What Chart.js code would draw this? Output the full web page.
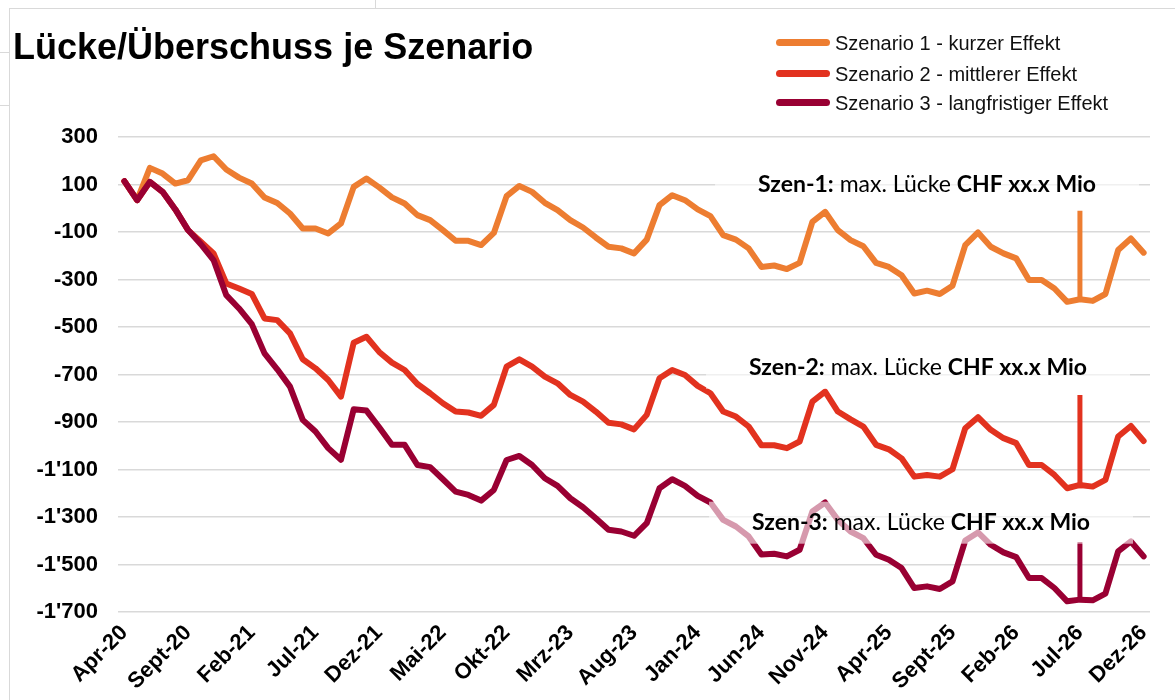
<!DOCTYPE html>
<html>
<head>
<meta charset="utf-8">
<script src="https://cdn.jsdelivr.net/npm/chart.js@4.4.1/dist/chart.umd.min.js"></script>
<style>
  body { margin: 0; background: #fff; }
  #rahmen { position: relative; width: 1175px; height: 700px; overflow: hidden; }
  #grafik { position: absolute; left: 0; top: 0; }
  .linie { position: absolute; background: #d9d9d9; }
  #titel { position: absolute; left: 13px; top: 29px; font: bold 36px "Liberation Sans", Arial, sans-serif; line-height: 36px; color: #000; white-space: nowrap; }
  #legende { position: absolute; left: 776px; top: 0; }
  .eintrag { position: absolute; left: 0; height: 20px; white-space: nowrap; font: 20px "Liberation Sans", Arial, sans-serif; line-height: 20px; color: #111; }
  .eintrag span.strich { position: absolute; left: 0; top: 6px; width: 54px; height: 7px; border-radius: 4px; }
  .eintrag span.text { position: absolute; left: 59px; top: 0; }
</style>
</head>
<body>
<div id="rahmen">
  <div class="linie" style="left:9px;top:8px;width:1px;height:692px"></div>
  <div class="linie" style="left:9px;top:8px;width:1166px;height:1px"></div>
  <div class="linie" style="left:0;top:52px;width:9px;height:1px"></div>
  <div class="linie" style="left:0;top:105px;width:9px;height:1px"></div>
  <div class="linie" style="left:375px;top:0;width:1px;height:8px"></div>
  <canvas id="grafik" width="1175" height="700"></canvas>
  <div id="titel">Lücke/Überschuss je Szenario</div>
  <div id="legende"></div>
</div>
<script>
// Monate Apr-20 bis Dez-26
const monate = [
  'Apr-20','Mai-20','Jun-20','Jul-20','Aug-20','Sept-20','Okt-20','Nov-20','Dez-20',
  'Jan-21','Feb-21','Mrz-21','Apr-21','Mai-21','Jun-21','Jul-21','Aug-21','Sept-21','Okt-21','Nov-21','Dez-21',
  'Jan-22','Feb-22','Mrz-22','Apr-22','Mai-22','Jun-22','Jul-22','Aug-22','Sept-22','Okt-22','Nov-22','Dez-22',
  'Jan-23','Feb-23','Mrz-23','Apr-23','Mai-23','Jun-23','Jul-23','Aug-23','Sept-23','Okt-23','Nov-23','Dez-23',
  'Jan-24','Feb-24','Mrz-24','Apr-24','Mai-24','Jun-24','Jul-24','Aug-24','Sept-24','Okt-24','Nov-24','Dez-24',
  'Jan-25','Feb-25','Mrz-25','Apr-25','Mai-25','Jun-25','Jul-25','Aug-25','Sept-25','Okt-25','Nov-25','Dez-25',
  'Jan-26','Feb-26','Mrz-26','Apr-26','Mai-26','Jun-26','Jul-26','Aug-26','Sept-26','Okt-26','Nov-26','Dez-26'
];

const szenario1 = [
  114, 34, 170, 146, 104, 118, 202, 219, 163, 129, 104, 45, 22, -22, -85, -85, -106, -64, 90, 125, 88,
  46, 20, -29, -50, -92, -137, -137, -155, -104, 51, 94, 69,
  23, -8, -50, -81, -123, -162, -169, -190, -132, 13, 55, 34,
  -5, -33, -113, -132, -169, -247, -241, -256, -230, -57, -15, -92,
  -134, -160, -230, -247, -282, -359, -347, -361, -326, -155, -102, -162,
  -190, -211, -302, -302, -338, -394, -383, -390, -361, -176, -127, -187
];
const szenario2 = [
  114, 34, 111, 69, -5, -92, -141, -190, -317, -338, -361, -464, -471, -527, -636, -674, -723, -793, -566, -541, -605,
  -650, -681, -740, -779, -821, -856, -860, -874, -828, -667, -636, -667,
  -709, -737, -786, -814, -856, -903, -910, -931, -870, -716, -681, -702,
  -748, -779, -856, -877, -919, -998, -998, -1010, -982, -814, -772, -856,
  -889, -919, -996, -1015, -1053, -1130, -1123, -1130, -1099, -926, -880, -933,
  -968, -989, -1081, -1081, -1123, -1179, -1165, -1172, -1144, -961, -917, -980
];
const szenario3 = [
  114, 34, 111, 69, -5, -92, -151, -218, -366, -422, -488, -611, -678, -751, -891, -940, -1010, -1059, -846, -852, -922,
  -996, -996, -1081, -1090, -1141, -1193, -1207, -1231, -1186, -1060, -1043, -1081,
  -1137, -1169, -1221, -1259, -1305, -1354, -1361, -1379, -1326, -1179, -1141, -1169,
  -1211, -1239, -1312, -1340, -1382, -1458, -1455, -1466, -1438, -1277, -1239, -1312,
  -1361, -1389, -1459, -1480, -1515, -1599, -1592, -1603, -1571, -1399, -1365, -1417,
  -1449, -1469, -1557, -1557, -1599, -1655, -1648, -1651, -1623, -1445, -1403, -1466
];

// Markierung der maximalen Lücke (Monat, oberes und unteres Ende)
const markerMonat = 'Jul-26';
const marker1 = [-11, -394];
const marker2 = [-786, -1179];
const marker3 = [-1405, -1655];

const beschriftungen = ['Szenario 1 - kurzer Effekt', 'Szenario 2 - mittlerer Effekt', 'Szenario 3 - langfristiger Effekt'];
const farben = ['#ED7D31', '#E2321F', '#990033'];

const hinweise = [
  { kopf: 'Szen-1:', mitte: ' max. Lücke ', betrag: 'CHF xx.x Mio', wert: 101, index: 63, dx: 0 },
  { kopf: 'Szen-2:', mitte: ' max. Lücke ', betrag: 'CHF xx.x Mio', wert: -672, index: 63, dx: -9 },
  { kopf: 'Szen-3:', mitte: ' max. Lücke ', betrag: 'CHF xx.x Mio', wert: -1324, index: 63, dx: -6 }
];

function tausender(v) {
  const s = Math.abs(v).toString().replace(/\B(?=(\d{3})+(?!\d))/g, "'");
  return (v < 0 ? '-' : '') + s;
}

function markerDaten(paar) {
  return paar.map(function(y) { return { x: markerMonat, y: y }; });
}

// Hinweistexte mit halbtransparentem Hintergrund
const hinweisPlugin = {
  id: 'hinweise',
  afterDatasetsDraw(chart) {
    const ctx = chart.ctx;
    const xs = chart.scales.x, ys = chart.scales.y;
    const fett = 'bold 23px Lato, "Open Sans", sans-serif';
    const normal = '23px Lato, "Open Sans", sans-serif';
    hinweise.forEach(function(h) {
      ctx.save();
      ctx.font = fett;
      const w1 = ctx.measureText(h.kopf).width;
      const w3 = ctx.measureText(h.betrag).width;
      ctx.font = normal;
      const w2 = ctx.measureText(h.mitte).width;
      const breite = w1 + w2 + w3;
      const cx = xs.getPixelForValue(h.index) + h.dx;
      const cy = ys.getPixelForValue(h.wert);
      ctx.fillStyle = 'rgba(255,255,255,0.6)';
      ctx.fillRect(cx - breite / 2 - 43, cy - 21, breite + 86, 42);
      ctx.fillStyle = '#000';
      ctx.textBaseline = 'middle';
      ctx.textAlign = 'left';
      let x = cx - breite / 2;
      ctx.font = fett; ctx.fillText(h.kopf, x, cy); x += w1;
      ctx.font = normal; ctx.fillText(h.mitte, x, cy); x += w2;
      ctx.font = fett; ctx.fillText(h.betrag, x, cy);
      ctx.restore();
    });
  }
};

const reihen = [szenario1, szenario2, szenario3];
const marker = [marker1, marker2, marker3];
const datensaetze = [];
reihen.forEach(function(r, i) {
  datensaetze.push({
    label: beschriftungen[i],
    data: r,
    borderColor: farben[i],
    backgroundColor: farben[i],
    borderWidth: 6,
    pointRadius: 0,
    tension: 0,
    borderJoinStyle: 'round',
    borderCapStyle: 'round',
    order: 3 - i
  });
});
marker.forEach(function(m, i) {
  datensaetze.push({
    label: '',
    data: markerDaten(m),
    borderColor: farben[i],
    borderWidth: 5,
    pointRadius: 0,
    borderCapStyle: 'butt',
    order: 0
  });
});

const grafik = new Chart(document.getElementById('grafik').getContext('2d'), {
  type: 'line',
  data: { labels: monate, datasets: datensaetze },
  options: {
    responsive: false,
    animation: false,
    layout: { padding: { left: 0, top: 137, right: 25, bottom: 0 } },
    plugins: {
      legend: { display: false },
      title: { display: false },
      tooltip: { enabled: false }
    },
    scales: {
      x: {
        offset: true,
        grid: { display: false, drawTicks: false },
        border: { display: false },
        ticks: {
          autoSkip: false,
          minRotation: 45,
          maxRotation: 45,
          padding: 8,
          color: '#000',
          font: { family: '"Liberation Sans", Arial, sans-serif', size: 22, weight: 'bold' },
          callback: function(v, i) { return i % 5 === 0 ? monate[i] : ''; }
        },
        afterFit: function(s) { s.height = 88; }
      },
      y: {
        min: -1700,
        max: 300,
        grid: { color: '#d9d9d9', lineWidth: 1.5, drawTicks: false },
        border: { display: false },
        ticks: {
          stepSize: 200,
          padding: 20,
          color: '#000',
          font: { family: '"Liberation Sans", Arial, sans-serif', size: 22, weight: 'bold' },
          callback: function(v) { return tausender(v); }
        },
        afterFit: function(s) { s.width = 118; }
      }
    }
  },
  plugins: [hinweisPlugin]
});

// Legende aus den Datensätzen
const legende = document.getElementById('legende');
const zeilen = [33, 64, 93];
grafik.data.datasets.filter(function(d) { return d.label; }).forEach(function(d, i) {
  const e = document.createElement('div');
  e.className = 'eintrag';
  e.style.top = zeilen[i] + 'px';
  e.innerHTML = '<span class="strich" style="background:' + d.borderColor + '"></span><span class="text">' + d.label + '</span>';
  legende.appendChild(e);
});
</script>
</body>
</html>
